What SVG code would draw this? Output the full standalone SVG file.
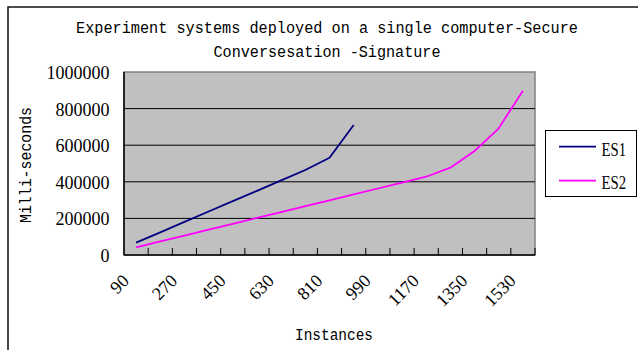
<svg xmlns="http://www.w3.org/2000/svg" width="638" height="350" viewBox="0 0 638 350">
<style>
.mono{font-family:"Liberation Mono","DejaVu Sans Mono",monospace;fill:#000}
.num{font-family:"Liberation Serif","DejaVu Serif",serif;fill:#000}
.grid{stroke:#000;stroke-width:1}
.tick{stroke:#000;stroke-width:1}
.s1{fill:none;stroke:#000080;stroke-width:1.8;stroke-linejoin:round}
.s2{fill:none;stroke:#ff00ff;stroke-width:1.8;stroke-linejoin:round}
</style>
<rect x="0" y="0" width="638" height="350" fill="#fff"/>
<rect x="8" y="7" width="640" height="350" fill="#fff" stroke="#111" stroke-width="1.5"/>
<g id="title">
<text class="mono" x="327" y="33" font-size="16" text-anchor="middle" textLength="502" lengthAdjust="spacingAndGlyphs">Experiment systems deployed on a single computer-Secure</text>
<text class="mono" x="327" y="56.5" font-size="16" text-anchor="middle" textLength="227" lengthAdjust="spacingAndGlyphs">Conversesation -Signature</text>
</g>
<g id="plot">
<rect x="124" y="72" width="411" height="183" fill="#c0c0c0" stroke="#808080" stroke-width="1.5"/>
<line class="grid" x1="124" y1="108.6" x2="535" y2="108.6"/>
<line class="grid" x1="124" y1="145.2" x2="535" y2="145.2"/>
<line class="grid" x1="124" y1="181.8" x2="535" y2="181.8"/>
<line class="grid" x1="124" y1="218.4" x2="535" y2="218.4"/>
<line x1="124" y1="72" x2="124" y2="255" stroke="#000" stroke-width="1.5"/>
<line x1="124" y1="255" x2="535" y2="255" stroke="#000" stroke-width="1.5"/>
<path class="tick" d="M148.18 248V255M172.35 248V255M196.53 248V255M220.71 248V255M244.88 248V255M269.06 248V255M293.24 248V255M317.41 248V255M341.59 248V255M365.76 248V255M389.94 248V255M414.12 248V255M438.29 248V255M462.47 248V255M486.65 248V255M510.82 248V255M535 248V255"/>
</g>
<g id="y-axis">
<g class="num" font-size="18" text-anchor="end">
<text x="109.5" y="79">1000000</text>
<text x="109.5" y="115.6">800000</text>
<text x="109.5" y="152.2">600000</text>
<text x="109.5" y="188.8">400000</text>
<text x="109.5" y="225.4">200000</text>
<text x="109.5" y="262">0</text>
</g>
<text class="mono" transform="translate(31,165) rotate(-90)" font-size="16" text-anchor="middle" textLength="116" lengthAdjust="spacingAndGlyphs">Milli-seconds</text>
</g>
<g id="x-axis">
<g class="num" font-size="18" text-anchor="end">
<text transform="translate(130.1,282) rotate(-45)">90</text>
<text transform="translate(178.4,282) rotate(-45)">270</text>
<text transform="translate(226.8,282) rotate(-45)">450</text>
<text transform="translate(275.1,282) rotate(-45)">630</text>
<text transform="translate(323.5,282) rotate(-45)">810</text>
<text transform="translate(371.9,282) rotate(-45)">990</text>
<text transform="translate(420.2,282) rotate(-45)">1170</text>
<text transform="translate(468.6,282) rotate(-45)">1350</text>
<text transform="translate(516.9,282) rotate(-45)">1530</text>
</g>
<text class="mono" x="334" y="340" font-size="16" text-anchor="middle" textLength="78" lengthAdjust="spacingAndGlyphs">Instances</text>
</g>
<g id="connectors">
<polyline id="ES1" class="s1" points="136.09,242.7 160.26,232.3 184.44,221.9 208.62,211.5 232.79,201.2 256.97,190.8 281.15,180.4 305.32,170 329.5,157.7 353.68,125"/>
<polyline id="ES2" class="s2" points="136.09,247.3 160.26,241.42 184.44,235.54 208.62,229.66 232.79,223.78 256.97,217.9 281.15,212.02 305.32,206.14 329.5,200.26 353.68,194.38 377.85,188.5 402.03,182.62 426.21,176.74 450.38,167.7 474.56,151 498.74,128.3 522.91,90.7"/>
</g>
<g id="legend">
<rect x="545.5" y="130.5" width="91" height="66" fill="#fff" stroke="#000" stroke-width="1"/>
<line x1="559" y1="146.7" x2="596" y2="146.7" stroke="#000080" stroke-width="1.8"/>
<text class="num" x="601.5" y="156" font-size="19" textLength="24.5" lengthAdjust="spacingAndGlyphs">ES1</text>
<line x1="559" y1="180.7" x2="596" y2="180.7" stroke="#ff00ff" stroke-width="1.8"/>
<text class="num" x="601.5" y="188.5" font-size="19" textLength="24.5" lengthAdjust="spacingAndGlyphs">ES2</text>
</g>
</svg>
